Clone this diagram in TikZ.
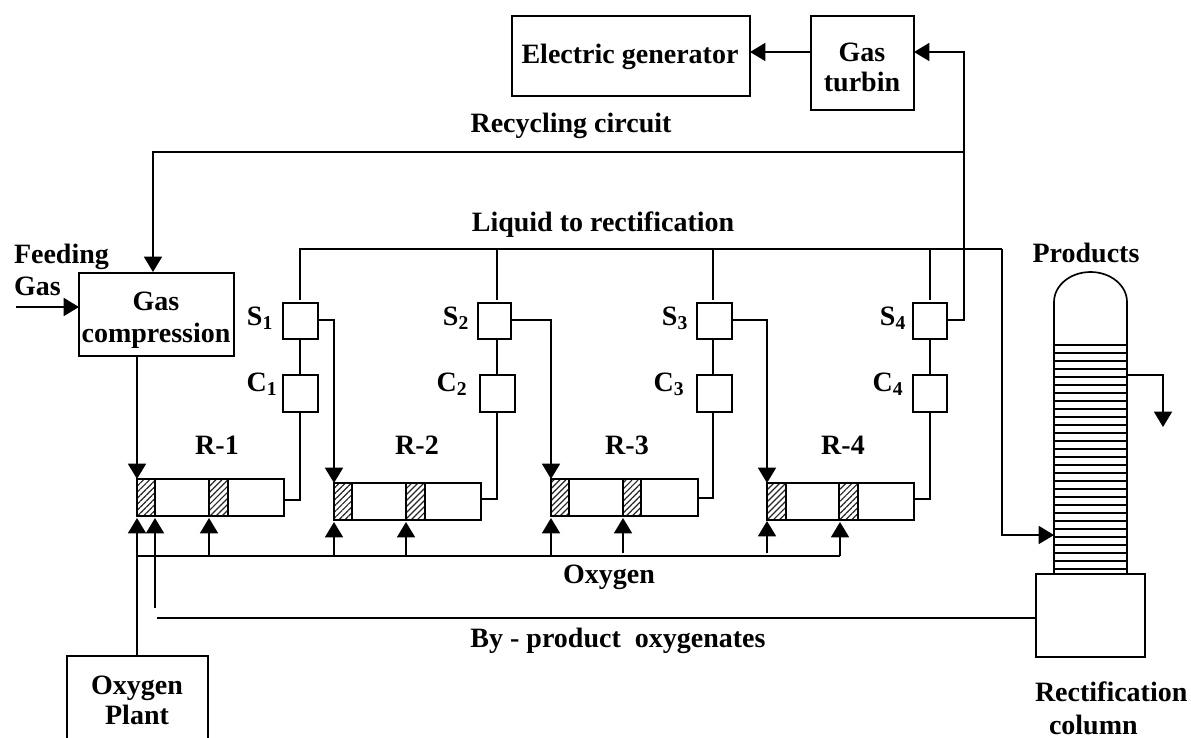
\documentclass[tikz,border=0pt]{standalone}
\usepackage{fontspec}
\setmainfont{Liberation Serif}
\usetikzlibrary{arrows.meta,patterns.meta,calc}
\tikzset{
  flow/.style={line width=1.25pt,line cap=butt,line join=miter},
  tip/.style={flow,-{Triangle[width=13.5pt,length=11.5pt]}},
  unit/.style={draw=black,line width=1.25pt,fill=white,inner sep=0pt,outer sep=0pt,align=center,
    font=\fontsize{21pt}{22.5pt}\selectfont\bfseries},
  hatch/.style={draw=black,line width=1.25pt,inner sep=0pt,outer sep=0pt,
    pattern={Lines[angle=45,distance=3.2pt,line width=.9pt]},pattern color=black!85},
  lbl/.style={inner sep=0pt,outer sep=0pt,align=center,
    font=\fontsize{21pt}{22.5pt}\selectfont\bfseries},
}
% name, x1, y1, x2, y2, text
\newcommand\pbox[6]{\node[unit,minimum width={(#4-#2)*0.75pt},minimum height={(#5-#3)*0.75pt}] (#1) at ({(#2+#4)/2},{(#3+#5)/2}) {#6};}
\newcommand\hatchbox[5]{\node[hatch,minimum width={(#4-#2)*0.75pt},minimum height={(#5-#3)*0.75pt}] (#1) at ({(#2+#4)/2},{(#3+#5)/2}) {};}
\begin{document}
\begin{tikzpicture}[x=0.75pt,y=-0.75pt]
\useasboundingbox (0,0) rectangle (1191,738);
% junctions
\coordinate (recyc) at (964,152);
\coordinate (liq) at (1002,249);
\coordinate (oxL) at (137,556);
\coordinate (oxR) at (840,556);
\coordinate (feed) at (16,307);
\coordinate (prod) at (1163,427);
\coordinate (bypL) at (157,618);
\coordinate (bypU) at (155,608);
\coordinate (o3) at (623,553);
\coordinate (o4) at (767,553);
% column
\draw[flow,fill=white] (1054,574) -- (1054,302) arc[start angle=180,end angle=360,x radius=36.5,y radius=30] -- (1127,574);
\foreach \i in {0,...,28} \draw[line width=1.1pt] ({1054},{345+\i*8}) -- (1127,{345+\i*8});
\pbox{base}{1036}{574}{1145}{657}{}
\coordinate (colL) at (1054,535);
\coordinate (colR) at (1127,375);
% main units
\pbox{gen}{512}{16}{750}{96}{}
\pbox{turb}{811}{16}{914}{110}{}
\pbox{comp}{79}{273}{234}{356}{}
\pbox{plant}{67}{656}{208}{748}{}
\node[lbl] (gentext) at (630,57) {Electric generator};
\node[lbl] (turbtext) at (862,67) {Gas\\turbin};
\node[lbl] (comptext) at (156,320) {Gas\\[1.5pt]compression};
\node[lbl] (planttext) at (137,700) {Oxygen\\Plant};
% separators and coolers
\pbox{s1}{283}{303}{318}{339}{}
\pbox{c1}{283}{375}{318}{412}{}
\pbox{s2}{478}{303}{511}{339}{}
\pbox{c2}{480}{375}{515}{412}{}
\pbox{s3}{697}{303}{732}{339}{}
\pbox{c3}{697}{375}{732}{412}{}
\pbox{s4}{913}{303}{947}{339}{}
\pbox{c4}{913}{375}{947}{412}{}
% reactors
\pbox{r1}{137}{479}{284}{516}{}
\pbox{r2}{334}{483}{481}{520}{}
\pbox{r3}{551}{479}{698}{516}{}
\pbox{r4}{767}{483}{914}{520}{}
\hatchbox{h1a}{137}{479}{155}{516}
\hatchbox{h1b}{209}{479}{228}{516}
\hatchbox{h2a}{334}{483}{352}{520}
\hatchbox{h2b}{406}{483}{425}{520}
\hatchbox{h3a}{551}{479}{569}{516}
\hatchbox{h3b}{623}{479}{641}{516}
\hatchbox{h4a}{767}{483}{786}{520}
\hatchbox{h4b}{839}{483}{858}{520}
% generator branch
\draw[tip] (turb.west |- 0,52) -- (gen.east |- 0,52);
\draw[tip] (s4.east |- 0,320) -| (recyc) |- (turb.east |- 0,52);
\draw[tip] (recyc) -| (153,272);
% liquid header
\draw[flow] (300,300) -- (300,249) -- (liq);
\draw[tip] (liq) |- (colL);
\draw[flow] (497,300) -- (497,249);
\draw[flow] (713,300) -- (713,249);
\draw[flow] (930,300) -- (930,249);
% separator to cooler to reactor
\draw[flow] (300,339) -- (300,375);
\draw[flow] (497,339) -- (497,375);
\draw[flow] (713,339) -- (713,375);
\draw[flow] (930,339) -- (930,375);
\draw[flow] (300,412) |- (r1.east |- 0,500);
\draw[flow] (497,412) |- (r2.east |- 0,499);
\draw[flow] (713,412) |- (r3.east |- 0,498);
\draw[flow] (930,412) |- (r4.east |- 0,499);
% interstage
\draw[tip] (s1.east |- 0,320) -| (h2a.north west);
\draw[tip] (s2.east |- 0,320) -| (h3a.north west);
\draw[tip] (s3.east |- 0,320) -| (h4a.north west);
\draw[tip] (comp.south -| oxL) -- (h1a.north west);
% feed
\draw[tip] (feed) -- (feed -| comp.west);
% oxygen
\draw[tip] (plant.north -| oxL) -- (137,518);
\draw[flow] (oxL) -- (oxR);
\draw[tip] (oxR) -- (840,522);
\draw[tip] (209,556) -- (209,518);
\draw[tip] (334,556) -- (334,522);
\draw[tip] (406,556) -- (406,522);
\draw[tip] (551,556) -- (551,518);
\draw[tip] (o3) -- (623,518);
\draw[tip] (o4) -- (767,521);
% by-product
\draw[tip] (bypU) -- (155,518);
\draw[flow] (base.west |- bypL) -- (bypL);
% product
\draw[tip] (colR) -| (prod);
% labels
\node[lbl,align=left,anchor=west] (feedtxt) at (14,270) {Feeding\\[1.5pt]Gas};
\node[lbl] (rc) at (571,126) {Recycling circuit};
\node[lbl] (lr) at (603,225) {Liquid to rectification};
\node[lbl] (ox) at (609,577) {Oxygen};
\node[lbl] (bp) at (618,641) {By - product\ \ oxygenates};
\node[lbl] (pr) at (1086,253) {Products};
\node[lbl,align=left,anchor=west] (rect) at (1035,708) {Rectification\\[2pt]\hspace*{10.5pt}column};
\node[lbl] (ls1) at (260,318) {S\textsubscript{1}};
\node[lbl] (lc1) at (262,384) {C\textsubscript{1}};
\node[lbl] (lr1) at (217,445) {R-1};
\node[lbl] (ls2) at (456,318) {S\textsubscript{2}};
\node[lbl] (lc2) at (452,384) {C\textsubscript{2}};
\node[lbl] (lr2) at (417,445) {R-2};
\node[lbl] (ls3) at (675,318) {S\textsubscript{3}};
\node[lbl] (lc3) at (669,384) {C\textsubscript{3}};
\node[lbl] (lr3) at (627,445) {R-3};
\node[lbl] (ls4) at (893,318) {S\textsubscript{4}};
\node[lbl] (lc4) at (888,384) {C\textsubscript{4}};
\node[lbl] (lr4) at (843,445) {R-4};
\end{tikzpicture}
\end{document}
